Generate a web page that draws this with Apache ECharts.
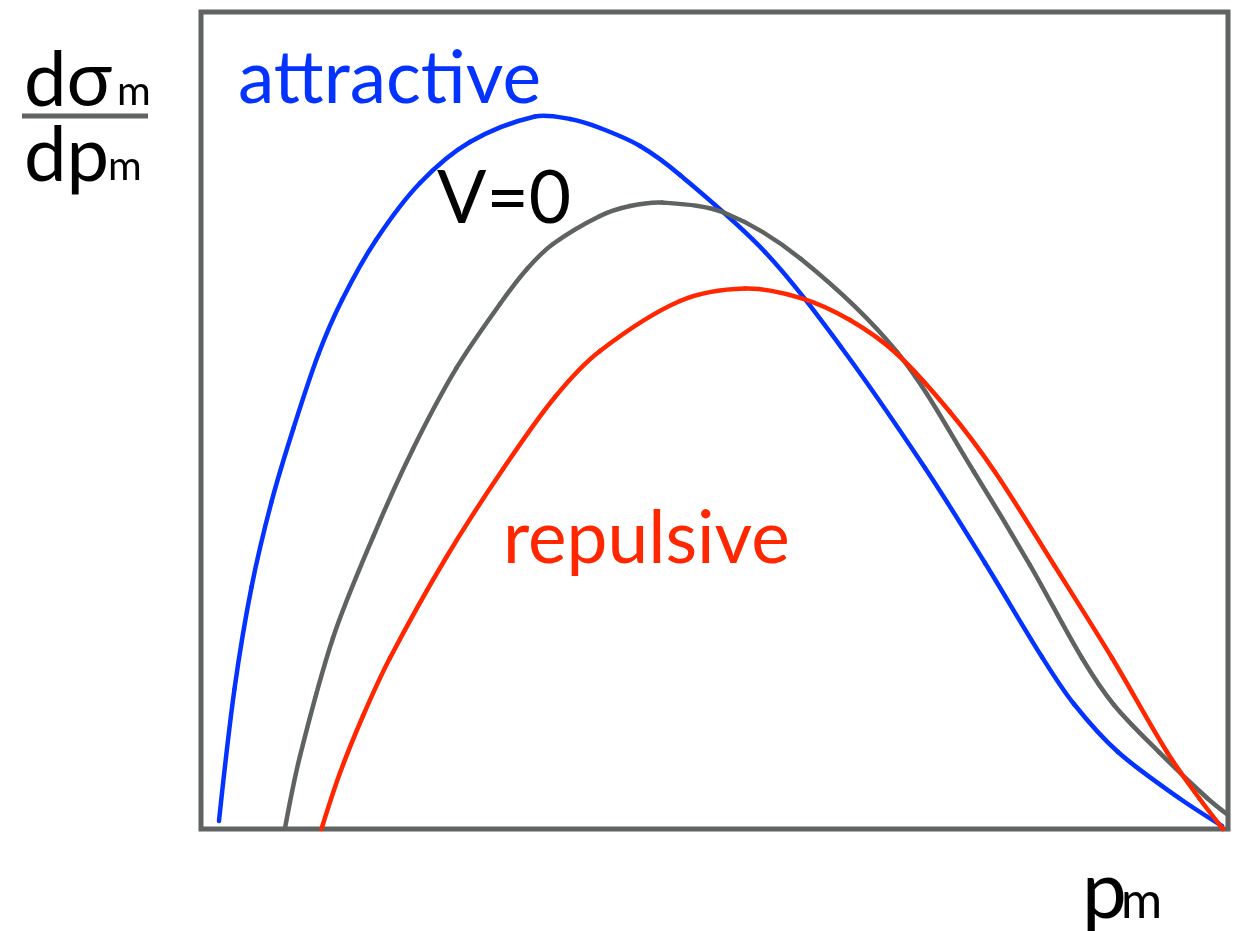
<!DOCTYPE html>
<html>
<head>
<meta charset="utf-8">
<title>Differential cross section vs p_m</title>
<script src="https://cdn.jsdelivr.net/npm/echarts@6/dist/echarts.min.js"></script>
<style>
  html, body { margin: 0; padding: 0; background: #ffffff; }
  #chart { width: 1241px; height: 931px; }
</style>
</head>
<body>
<div id="chart"></div>
<script>
// Missing momentum p_m (normalised 0..1) and dσ_m/dp_m (normalised 0..1, arbitrary units)
const attractiveX = [0.0175, 0.0326, 0.0492, 0.0686, 0.0901, 0.1144, 0.1373, 0.1704, 0.2132, 0.2619, 0.3252, 0.3593, 0.3885, 0.4275, 0.4664, 0.5492, 0.6232, 0.7050, 0.7634, 0.8189, 0.8500, 0.8929, 0.9523, 0.9942];
const attractiveY = [0.0098, 0.1714, 0.2962, 0.4002, 0.4908, 0.5814, 0.6475, 0.7209, 0.7907, 0.8409, 0.8721, 0.8690, 0.8580, 0.8360, 0.8005, 0.7062, 0.5900, 0.4419, 0.3256, 0.2105, 0.1530, 0.0942, 0.0379, 0.0037];

const neutralX = [0.0818, 0.0964, 0.1285, 0.1675, 0.2064, 0.2488, 0.2911, 0.3174, 0.3427, 0.3885, 0.4177, 0.4489, 0.5102, 0.5842, 0.6777, 0.7527, 0.8072, 0.8578, 0.8890, 0.9328, 0.9796, 1.0];
const neutralY = [0.0012, 0.0894, 0.2338, 0.3574, 0.4651, 0.5643, 0.6426, 0.6854, 0.7160, 0.7503, 0.7625, 0.7668, 0.7540, 0.6977, 0.5838, 0.4370, 0.3231, 0.2093, 0.1518, 0.0942, 0.0379, 0.0171];

const repulsiveX = [0.1173, 0.1353, 0.1577, 0.1840, 0.2390, 0.2941, 0.3447, 0.3885, 0.4664, 0.5297, 0.5842, 0.6319, 0.6777, 0.7293, 0.7731, 0.8306, 0.8871, 0.9406, 0.9718, 0.9951];
const repulsiveY = [0.0, 0.0685, 0.1383, 0.2093, 0.3329, 0.4406, 0.5288, 0.5851, 0.6463, 0.6616, 0.6499, 0.6230, 0.5814, 0.5104, 0.4370, 0.3231, 0.2093, 0.0942, 0.0379, 0.0];

const seriesNames = ['attractive', 'V=0', 'repulsive'];

function pairs(xs, ys) { return xs.map((x, i) => [x, ys[i]]); }

const BLUE = '#0433FF', GREY = '#5E6260', RED = '#FF2600', FRAME = '#5F6361';
const FONT = 'Lato, "Open Sans", sans-serif';

const chart = echarts.init(document.getElementById('chart'), null, { renderer: 'canvas' });

// Smooth curve through the data points: each item draws the cubic segment
// arriving at it, with tangents taken from its neighbours (Catmull-Rom style).
function curve(name, data, color) {
  return {
    name: name, type: 'custom', data: data, clip: false, z: 3,
    encode: { x: 0, y: 1 },
    renderItem: function (params, api) {
      const i = params.dataIndex;
      if (i === 0) return null;
      const n = data.length;
      const p0 = api.coord(data[Math.max(i - 2, 0)]);
      const p1 = api.coord(data[i - 1]);
      const p2 = api.coord(data[i]);
      const p3 = api.coord(data[Math.min(i + 1, n - 1)]);
      const d = (a, b) => Math.hypot(b[0] - a[0], b[1] - a[1]) || 1;
      const d01 = d(p0, p1), d12 = d(p1, p2), d23 = d(p2, p3);
      const s = 1 / 3;
      const r1 = (i - 2 < 0) ? 0 : d12 / (d01 + d12);
      const r2 = (i + 1 > n - 1) ? 0 : d12 / (d12 + d23);
      return {
        type: 'bezierCurve',
        shape: {
          x1: p1[0], y1: p1[1], x2: p2[0], y2: p2[1],
          cpx1: p1[0] + (p2[0] - p0[0]) * r1 * s, cpy1: p1[1] + (p2[1] - p0[1]) * r1 * s,
          cpx2: p2[0] - (p3[0] - p1[0]) * r2 * s, cpy2: p2[1] - (p3[1] - p1[1]) * r2 * s
        },
        style: { stroke: color, lineWidth: 4.5, fill: null, lineCap: 'round' }
      };
    }
  };
}

// text placed by its baseline
function word(text, x, baseline, size, color) {
  return {
    type: 'text', x: x, y: Math.round(baseline + 0.178 * size), z: 10,
    style: { text: text, fill: color, font: size + 'px ' + FONT, textAlign: 'left', textVerticalAlign: 'bottom' }
  };
}

chart.setOption({
  animation: false,
  backgroundColor: '#ffffff',
  grid: { left: 201, top: 12, width: 1027, height: 817, show: true, borderColor: FRAME, borderWidth: 5, backgroundColor: 'transparent' },
  xAxis: { type: 'value', min: 0, max: 1, show: false },
  yAxis: { type: 'value', min: 0, max: 1, show: false },
  series: [
    curve(seriesNames[0], pairs(attractiveX, attractiveY), BLUE),
    curve(seriesNames[1], pairs(neutralX, neutralY), GREY),
    curve(seriesNames[2], pairs(repulsiveX, repulsiveY), RED)
  ],
  graphic: [
    word(seriesNames[0], 238, 103, 73, BLUE),
    word(seriesNames[1], 437, 223, 73, '#000000'),
    word(seriesNames[2], 503, 563, 73, RED),
    // y-axis title: dσ_m / dp_m
    word('dσ', 24, 105, 76, '#000000'),
    word('m', 117, 105, 41, '#000000'),
    { type: 'line', z: 10, shape: { x1: 22, y1: 116, x2: 148, y2: 116 }, style: { stroke: FRAME, lineWidth: 5 } },
    word('dp', 24, 180, 76, '#000000'),
    word('m', 108, 180, 41, '#000000'),
    // x-axis title: p_m
    word('p', 1082, 918, 80, '#000000'),
    word('m', 1121, 918, 50, '#000000')
  ]
});
</script>
</body>
</html>
